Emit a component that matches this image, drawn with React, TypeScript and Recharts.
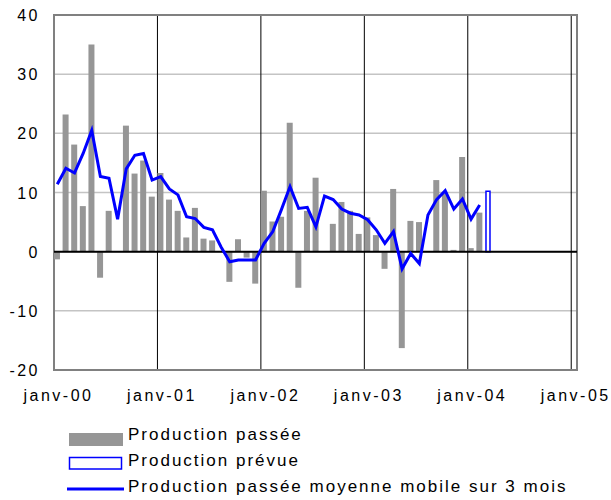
import {
    ComposedChart, Bar, Line, XAxis, YAxis, CartesianGrid,
    ReferenceLine, ReferenceArea, Legend
} from 'recharts';

// monthly values, janv-00 .. févr-04 (index = months since janv-00), août has no survey
const PAST = [
    -1.3, 23.2, 18.1, 7.7, 35.0, -4.4, 6.9, null, 21.3, 13.2,
    15.4, 9.3, 13.3, 8.8, 6.9, 2.4, 7.4, 2.2, 1.9, null,
    -5.1, 2.1, -1.0, -5.4, 10.3, 5.1, 5.9, 21.8, -6.1, 6.9,
    12.5, null, 4.7, 8.4, 6.9, 3.0, 5.8, 2.8, -2.9, 10.6,
    -16.3, 5.2, 5.0, null, 12.1, 10.0, 0.3, 16.0, 0.6, 6.6,
];

const MOVING_AVG = [
    11.4, 14.1, 13.3, 16.6, 20.5, 12.7, 12.4, 5.5, 14.0, 16.3,
    16.6, 12.1, 12.7, 10.6, 9.6, 5.9, 5.6, 4.1, 3.7, 0.8,
    -1.7, -1.4, -1.4, -1.4, 1.4, 3.4, 7.1, 11.0, 7.3, 7.5,
    4.2, 9.4, 8.8, 7.2, 6.5, 6.2, 5.4, 3.7, 1.4, 3.4,
    -2.9, -0.3, -2.0, 6.2, 8.8, 10.3, 7.2, 8.9, 5.5, 7.9,
];

const FORECAST_MONTHS = [50];
const FORECAST_VALUES = [10.2];

const YEAR_TICKS = [0, 12, 24, 36, 48, 60];
const YEAR_LABELS = ['janv-00', 'janv-01', 'janv-02', 'janv-03', 'janv-04', 'janv-05'];
const Y_TICKS = [-20, -10, 0, 10, 20, 30, 40];

const LEGEND_LABELS = [
    'Production passée',
    'Production prévue',
    'Production passée moyenne mobile sur 3 mois',
];

const data = [
    ...PAST.map((v, i) => ({ m: i, past: v, ma: MOVING_AVG[i] })),
    ...FORECAST_MONTHS.map((m, i) => ({ m, fc: FORECAST_VALUES[i] })),
];

const FONT = '"Liberation Sans", Arial, sans-serif';
const GREY = '#969696';
const BLUE = '#0000ff';

// bars sit at the start of each month slot, so the data axis is shifted a little
const MAIN_DOMAIN = [0, 60.67];
const DATA_DOMAIN = [-0.38, 60.29];

const XTick = (props: any) => {
    const { x, y, payload } = props;
    return (
        <text x={x + 4.5} y={y + 23} textAnchor="middle" fontFamily={FONT}
            fontSize={16} letterSpacing={2.5} fill="#000">
            {YEAR_LABELS[YEAR_TICKS.indexOf(payload.value)]}
        </text>
    );
};

const YTick = (props: any) => {
    const { y, payload } = props;
    return (
        <text x={40} y={y + 6} textAnchor="end" fontFamily={FONT}
            fontSize={16} letterSpacing={2.5} fill="#000">
            {payload.value}
        </text>
    );
};

const LegendBox = () => (
    <svg width={611} height={80} style={{ display: 'block' }}>
        <rect x={69} y={13} width={54} height={13} fill={GREY} />
        <text x={128} y={20} fontFamily={FONT} fontSize={17} letterSpacing={2}>{LEGEND_LABELS[0]}</text>
        <rect x={69.5} y={37.5} width={52} height={11.5} fill="#fff" stroke={BLUE} strokeWidth={1.5} />
        <text x={128} y={46} fontFamily={FONT} fontSize={17} letterSpacing={2}>{LEGEND_LABELS[1]}</text>
        <line x1={67} y1={69} x2={124} y2={69} stroke={BLUE} strokeWidth={3} />
        <text x={128} y={72} fontFamily={FONT} fontSize={17} letterSpacing={2}>{LEGEND_LABELS[2]}</text>
    </svg>
);

export default function App() {
    return (
        <div style={{ position: 'absolute', left: 0, top: 0, width: 611, height: 500, background: '#fff' }}>
            <ComposedChart width={611} height={500} data={data}
                margin={{ top: 15, right: 34, bottom: 100, left: 0 }}>
                <XAxis xAxisId="main" type="number" dataKey="m" domain={MAIN_DOMAIN}
                    allowDataOverflow ticks={YEAR_TICKS} interval={0} height={30}
                    axisLine={false} tickLine={false} tick={<XTick />} />
                <XAxis xAxisId="data" type="number" dataKey="m" domain={DATA_DOMAIN}
                    allowDataOverflow hide height={0} />
                <XAxis xAxisId="fc" type="number" dataKey="m" domain={DATA_DOMAIN}
                    allowDataOverflow hide height={0} />
                <YAxis type="number" domain={[-20, 40]} ticks={Y_TICKS} interval={0}
                    width={54} axisLine={false} tickLine={false} tick={<YTick />} />

                <CartesianGrid xAxisId="main" vertical={false} stroke="#c4c4c4" strokeWidth={1.5} />
                <CartesianGrid xAxisId="main" horizontal={false} stroke="#000" strokeWidth={1} />
                <ReferenceArea xAxisId="main" x1={MAIN_DOMAIN[0]} x2={MAIN_DOMAIN[1]} y1={-20} y2={40}
                    fill="none" stroke="#808080" strokeWidth={2} ifOverflow="visible" />

                <Bar xAxisId="data" dataKey="past" fill={GREY} barSize={6} isAnimationActive={false} />
                <Bar xAxisId="fc" dataKey="fc" fill="#fff" stroke={BLUE} strokeWidth={1.5}
                    barSize={4} isAnimationActive={false} />
                <ReferenceLine xAxisId="main" y={0} stroke="#000" strokeWidth={2} />
                <Line xAxisId="data" dataKey="ma" type="linear" stroke={BLUE} strokeWidth={3}
                    dot={false} connectNulls isAnimationActive={false} />

                <Legend layout="horizontal" verticalAlign="middle" align="center"
                    content={<LegendBox />}
                    wrapperStyle={{ position: 'absolute', left: 0, top: 420, width: 611, height: 80 }} />
            </ComposedChart>
        </div>
    );
}
